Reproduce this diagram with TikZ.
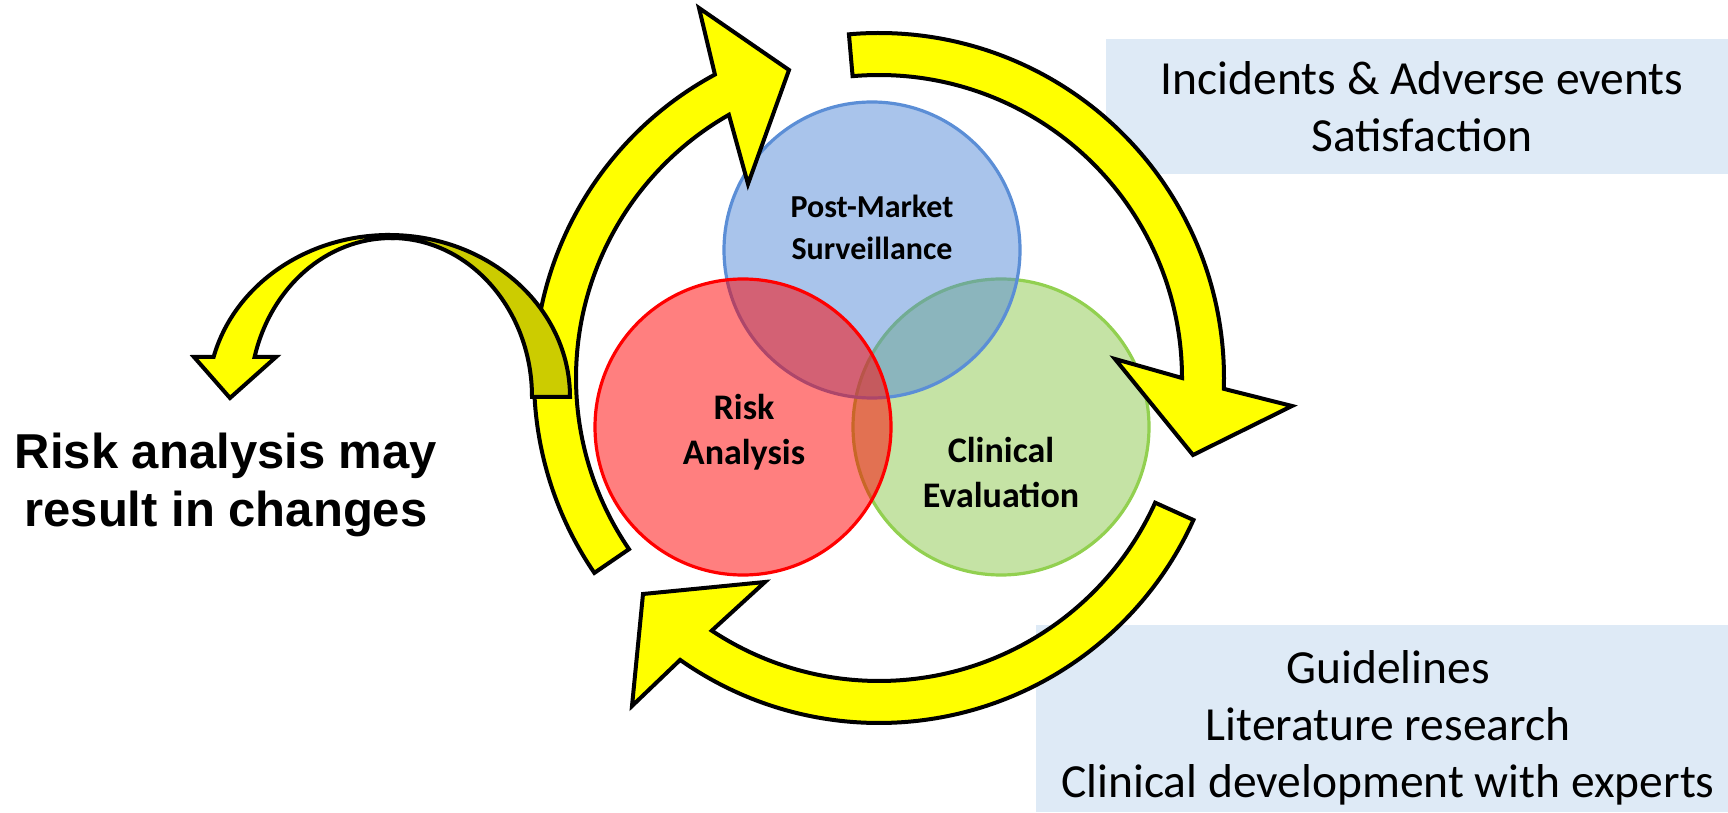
\documentclass[tikz,border=0pt]{standalone}
\usepackage{fontspec}
\setmainfont{Carlito}
\newfontfamily\arialfont{Liberation Sans}
\definecolor{boxblue}{HTML}{DEEAF6}
\definecolor{branchdark}{HTML}{CCCC00}
\definecolor{pmsfill}{RGB}{83,137,215}
\definecolor{pmsline}{RGB}{91,142,214}
\definecolor{cefill}{RGB}{139,199,75}
\definecolor{celine}{RGB}{146,208,80}
\definecolor{arrowyellow}{RGB}{255,255,0}
\begin{document}
\begin{tikzpicture}[x=1pt,y=1pt,
  yarrow/.style={fill=arrowyellow, draw=black, line width=4, line join=miter},
  darkpart/.style={fill=branchdark, draw=black, line width=4, line join=miter},
  circ/.style={line width=3.2, fill opacity=0.5, draw opacity=1},
  infobox/.style={fill=boxblue, draw=none, inner sep=0, rectangle},
  boxtext/.style={font=\fontsize{47.5}{57}\selectfont, align=center, inner sep=0},
  lbl/.style={font=\bfseries\fontsize{36}{45}\selectfont, align=center, inner sep=0},
  lblsmall/.style={font=\bfseries\fontsize{32}{42}\selectfont, align=center, inner sep=0}]
\useasboundingbox (0,0) rectangle (1728,812);

% information boxes
\node[infobox, minimum width=640, minimum height=135] (topbox) at (1426,705.5) {};
\node[infobox, minimum width=704, minimum height=187] (botbox) at (1388,93.5) {};
\node[boxtext] (toptext) at (1422,705.3) {Incidents \& Adverse events\\Satisfaction};
\node[boxtext] (bottext) at (1388,84.5) {Guidelines\\Literature research\\Clinical development with experts};

% circles
\path[circ, fill=cefill, draw=celine] (1001,385) circle[radius=148];
\path[circ, fill=pmsfill, draw=pmsline] (872,562) circle[radius=148];
\path[circ, fill=red, draw=red] (743,385) circle[radius=148];

\node[lblsmall] (pmstext) at (872,584.5) {Post-Market\\Surveillance};
\node[lbl] (ratext) at (744,380) {Risk\\Analysis};
\node[lbl] (cetext) at (1001,339.5) {Clinical\\Evaluation};

% cycle arrows
\begin{scope}[shift={(879,434)}]
\draw[yarrow] (95:345) arc[start angle=95, end angle=-1.8, radius=345]
  -- (413,-28) -- (314,-77) -- (236,19) -- (0:303)
  arc[start angle=0, end angle=95, radius=303] -- cycle;
\draw[yarrow] (-24.3:345) arc[start angle=-24.3, end angle=-125.2, radius=345]
  -- (-247,-328) -- (-236,-216) -- (-114,-204) -- (-123.5:303)
  arc[start angle=-123.5, end angle=-24.3, radius=303] -- cycle;
\draw[yarrow] (214.4:345) arc[start angle=214.4, end angle=118.4, radius=345]
  -- (-180,370) -- (-90,308) -- (-131,194) -- (119.7:303)
  arc[start angle=119.7, end angle=214.4, radius=303] -- cycle;
\end{scope}

% branch arrow
\draw[darkpart] (389,577) arc[start angle=90, end angle=0, x radius=181, y radius=162]
  -- (532,415) arc[start angle=0, end angle=90, x radius=141, y radius=159] -- cycle;
\draw[yarrow] (389,577) arc[start angle=90, end angle=165.7, x radius=181, y radius=162]
  -- (194,455) -- (230,414) -- (276,455) -- (254.6,455)
  arc[start angle=165.4, end angle=90, x radius=141, y radius=159] -- cycle;

\node[font=\arialfont\bfseries\fontsize{49}{58}\selectfont, align=center, inner sep=0] (changes) at (226,327) {Risk analysis may\\result in changes};
\end{tikzpicture}
\end{document}
